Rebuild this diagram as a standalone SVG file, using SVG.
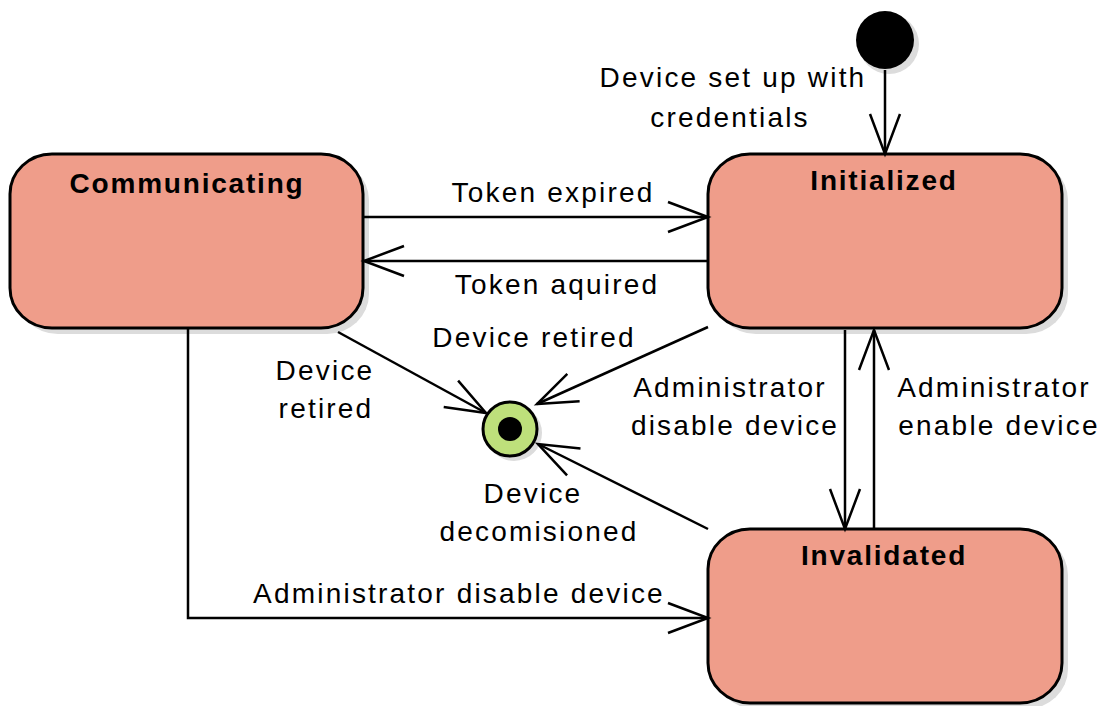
<svg xmlns="http://www.w3.org/2000/svg" width="1105" height="706" viewBox="0 0 1105 706">
  <style>
    .state { fill: #EF9D8A; stroke: #000; stroke-width: 3; }
    .shadow { fill: #DCDCDC; }
    .title { font-family: "Liberation Sans", Arial, sans-serif; font-size: 28px; font-weight: bold; letter-spacing: 1.8px; text-anchor: middle; fill: #000; }
    .label { font-family: "Liberation Sans", Arial, sans-serif; font-size: 28px; letter-spacing: 2.2px; text-anchor: middle; fill: #000; }
    .edge { fill: none; stroke: #000; stroke-width: 2.5; marker-end: url(#open); }
  </style>
  <defs>
    <marker id="open" viewBox="0 0 46 36" markerWidth="46" markerHeight="36" refX="43" refY="18" orient="auto" markerUnits="userSpaceOnUse" overflow="visible">
      <path d="M3,3 L43,18 L3,33" fill="none" stroke="#000" stroke-width="2.5"/>
    </marker>
  </defs>

  <rect width="1105" height="706" fill="#fff"/>

  <!-- states -->
  <g id="communicating">
    <rect class="shadow" x="16" y="160" width="353" height="174" rx="42" ry="40"/>
    <rect class="state" x="10" y="154" width="353" height="174" rx="42" ry="40"/>
    <text class="title" x="187" y="193">Communicating</text>
  </g>
  <g id="initialized">
    <rect class="shadow" x="714" y="160" width="354" height="174" rx="42" ry="40"/>
    <rect class="state" x="708" y="154" width="354" height="174" rx="42" ry="40"/>
    <text class="title" x="884" y="190">Initialized</text>
  </g>
  <g id="invalidated">
    <rect class="shadow" x="714" y="535" width="354" height="174" rx="42" ry="40"/>
    <rect class="state" x="708" y="529" width="354" height="174" rx="42" ry="40"/>
    <text class="title" x="884" y="565">Invalidated</text>
  </g>
  <g id="initial">
    <circle class="shadow" cx="889" cy="44" r="30"/>
    <circle cx="885" cy="40" r="29" fill="#000"/>
  </g>
  <g id="final">
    <circle class="shadow" cx="514" cy="433" r="28"/>
    <circle cx="510" cy="429" r="27" fill="#BEE07B" stroke="#000" stroke-width="3"/>
    <circle cx="510" cy="429" r="12" fill="#000"/>
  </g>

  <!-- transitions -->
  <g id="connectors">
    <line class="edge" x1="885" y1="70" x2="885" y2="154"/>
    <line class="edge" x1="363" y1="217" x2="708" y2="217"/>
    <line class="edge" x1="708" y1="261" x2="364" y2="261"/>
    <line class="edge" x1="845" y1="330" x2="845" y2="529"/>
    <line class="edge" x1="874" y1="529" x2="874" y2="330"/>
    <polyline class="edge" points="188,328 188,618 708,618"/>
    <line class="edge" x1="338" y1="332" x2="486" y2="413"/>
    <line class="edge" x1="708" y1="327" x2="537" y2="404"/>
    <line class="edge" x1="708" y1="529" x2="538" y2="444"/>
  </g>

  <!-- transition labels -->
  <g id="labels">
    <text class="label" x="733" y="87">Device set up with</text>
    <text class="label" x="730" y="127">credentials</text>
    <text class="label" x="553" y="202">Token expired</text>
    <text class="label" x="557" y="294">Token aquired</text>
    <text class="label" x="534" y="347">Device retired</text>
    <text class="label" x="325" y="380">Device</text>
    <text class="label" x="326" y="418">retired</text>
    <text class="label" x="730" y="397">Administrator</text>
    <text class="label" x="735" y="435">disable device</text>
    <text class="label" x="994" y="397">Administrator</text>
    <text class="label" x="999" y="435">enable device</text>
    <text class="label" x="533" y="503">Device</text>
    <text class="label" x="539" y="541">decomisioned</text>
    <text class="label" x="459" y="603">Administrator disable device</text>
  </g>
</svg>
